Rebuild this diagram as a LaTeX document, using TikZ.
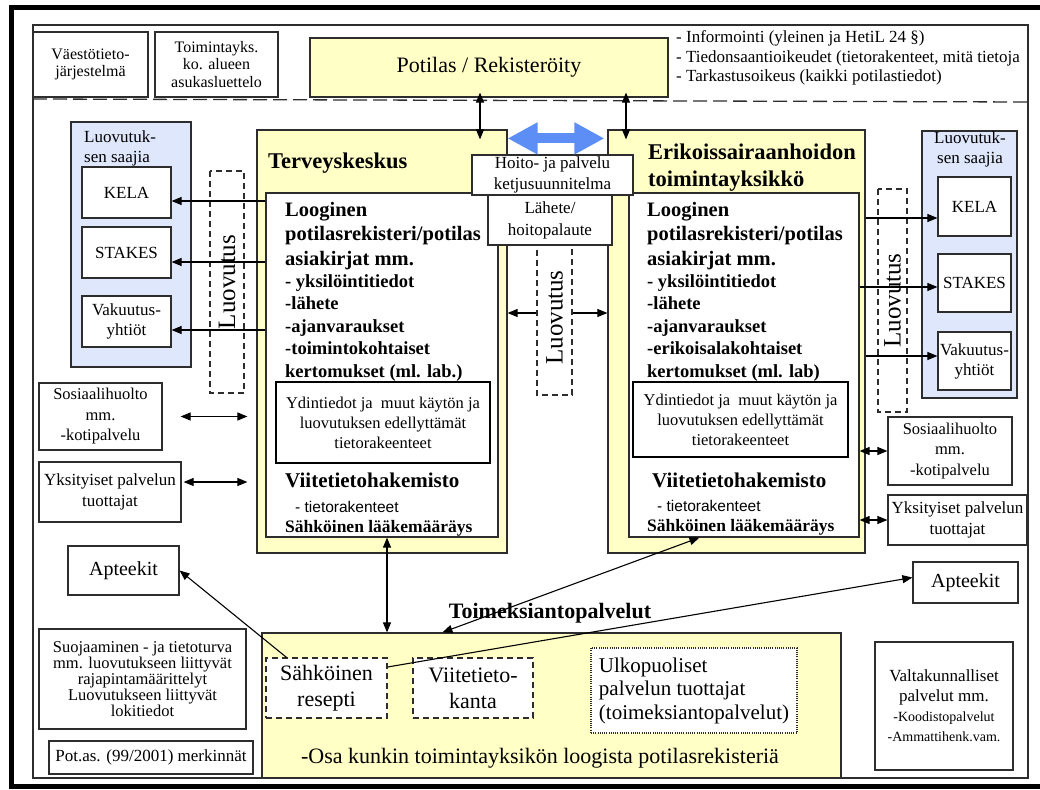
\documentclass[tikz,border=0pt]{standalone}
\usepackage{fontspec}
\setmainfont{Liberation Serif}
\setsansfont{Liberation Sans}
\usetikzlibrary{arrows.meta,calc}
\definecolor{potyellow}{RGB}{255,255,198}
\definecolor{saajablue}{RGB}{222,231,252}
\definecolor{hoitoblue}{RGB}{92,142,246}
\definecolor{linegray}{RGB}{45,45,45}
\newcommand\fsz[2]{\fontsize{#1}{#2}\selectfont}
\tikzset{
  every node/.style={font=\fsz{17}{20}},
  box/.style={draw=linegray, line width=1.2pt, fill=white, align=center, inner sep=1pt},
  ybox/.style={box, fill=potyellow},
  bbox/.style={box, fill=saajablue},
  dbox/.style={box, dash pattern=on 6pt off 4pt},
  saaja/.style={box, minimum width=89pt, minimum height=51pt},
  ydin/.style={box, draw=black, line width=2.6pt, font=\fsz{16.5}{20}},
  teksti/.style={anchor=base west, align=left, inner sep=0pt},
  otsake/.style={teksti, font=\fsz{20.5}{24.5}\bfseries},
  lista/.style={teksti, font=\fsz{18.5}{22.5}\bfseries},
  luovutus/.style={dbox, rotate=90, inner sep=0pt, font=\fsz{25}{25}},
  arr/.style={-{Triangle[length=10pt,width=8pt]}, line width=1.1pt},
  dbl/.style={{Triangle[length=10pt,width=8pt]}-{Triangle[length=10pt,width=8pt]}, line width=1.1pt},
  hoitonuoli/.style={{Triangle[length=30pt,width=30pt]}-{Triangle[length=30pt,width=30pt]}, line width=10pt, draw=hoitoblue}
}
\begin{document}
\begin{tikzpicture}[x=1pt,y=-1pt]
\useasboundingbox (0,0) rectangle (1040,789);
% kehys
\draw[line width=5pt] (1040,8) -- (11.5,8) -- (11.5,786) -- (1040,786);
\draw[draw=linegray, line width=1.2pt] (33,25) rectangle (1028,778);

% ylarivi (monirivisen tekstin base = viimeinen rivi)
\node[box, minimum width=115pt, minimum height=65pt, font=\fsz{16}{17.5}] (vaesto) at (90.5,64.5) {Väestötieto-\\järjestelmä};
\node[box, minimum width=123pt, minimum height=65pt, font=\fsz{16}{17.5}] (asukas) at (216.5,64.5) {Toimintayks.\\ko. alueen\\asukasluettelo};
\node[ybox, minimum width=358pt, minimum height=59pt, font=\fsz{22}{24}] (potilas) at (489,67.5) {Potilas / Rekisteröity};
\node[teksti, font=\fsz{17}{19.5}] (oikeudet) at (676,82) {- Informointi (yleinen ja HetiL 24 §)\\- Tiedonsaantioikeudet (tietorakenteet, mitä tietoja\\- Tarkastusoikeus (kaikki potilastiedot)};
\draw[draw=linegray, line width=1.3pt, dash pattern=on 14pt off 6pt] (33,99) -- (1028,102);

% luovutuksen saajia, vasen
\node[bbox, minimum width=120pt, minimum height=245pt] (saajaL) at (131,244.5) {};
\node[teksti] (saajaLt) at (84,162) {Luovutuk-\\sen saajia};
\node[saaja] (kelaL) at (126.5,192.5) {KELA};
\node[saaja] (stakesL) at (126.5,252.5) {STAKES};
\node[saaja] (vakL) at (126.5,321.5) {Vakuutus-\\yhtiöt};
\node[luovutus, minimum width=222pt, minimum height=34pt] (luovL) at (227,282) {Luovutus};

% terveyskeskus
\node[ybox, minimum width=250pt, minimum height=423pt] (tk) at (382,341.5) {};
\node[teksti, font=\fsz{22.5}{27}\bfseries] (tkotsikko) at (268,168) {Terveyskeskus};
\node[box, minimum width=232pt, minimum height=344pt] (tkw) at (382,365) {};
\node[otsake] (tkrek) at (285,265) {Looginen\\potilasrekisteri/potilas\\asiakirjat mm.};
\node[lista] (tklista) at (285,377) {- yksilöintitiedot\\-lähete\\-ajanvaraukset\\-toimintokohtaiset\\kertomukset (ml. lab.)};
\node[ydin, minimum width=214pt, minimum height=81pt] (ydinL) at (383,422.5) {Ydintiedot ja\ \ muut käytön ja\\luovutuksen edellyttämät\\tietorakeenteet};
\node[teksti, font=\fsz{21}{24}\bfseries] (viiteL) at (285,487) {Viitetietohakemisto};
\node[teksti, font=\sffamily\fsz{15.5}{18}] (rakenneL) at (295,512) {- tietorakenteet};
\node[teksti, font=\fsz{17.5}{20}\bfseries] (laakeL) at (285,532) {Sähköinen lääkemääräys};

% erikoissairaanhoito
\node[ybox, minimum width=257pt, minimum height=423pt] (es) at (736.5,341.5) {};
\node[teksti, font=\fsz{22.5}{27}\bfseries] (esotsikko) at (648,186) {Erikoissairaanhoidon\\toimintayksikkö};
\node[box, minimum width=230pt, minimum height=344pt] (esw) at (744,365) {};
\node[otsake] (esrek) at (647,265) {Looginen\\potilasrekisteri/potilas\\asiakirjat mm.};
\node[lista] (eslista) at (647,377) {- yksilöintitiedot\\-lähete\\-ajanvaraukset\\-erikoisalakohtaiset\\kertomukset (ml. lab)};
\node[ydin, minimum width=215pt, minimum height=75pt] (ydinR) at (740.5,419.5) {Ydintiedot ja\ \ muut käytön ja\\luovutuksen edellyttämät\\tietorakeenteet};
\node[teksti, font=\fsz{21}{24}\bfseries] (viiteR) at (652,487) {Viitetietohakemisto};
\node[teksti, font=\sffamily\fsz{15.5}{18}] (rakenneR) at (657,511) {- tietorakenteet};
\node[teksti, font=\fsz{17.5}{20}\bfseries] (laakeR) at (647,531) {Sähköinen lääkemääräys};

% keskiosa
\node[luovutus, minimum width=155pt, minimum height=35pt] (luovM) at (554.5,317.5) {Luovutus};
\node[box, minimum width=161pt, minimum height=40pt, font=\fsz{17}{21}] (hoito) at (552.5,175) {Hoito- ja palvelu\\ketjusuunnitelma};
\node[box, minimum width=124pt, minimum height=50pt, font=\fsz{17}{22}] (lahete) at (550,220) {Lähete/\\hoitopalaute};
\draw[hoitonuoli] ([yshift=-9pt]tk.north east) -- ([yshift=-9pt, xshift=-3pt]es.north west);

% luovutuksen saajia, oikea
\node[luovutus, minimum width=223pt, minimum height=29pt] (luovR) at (892.5,300.5) {Luovutus};
\node[bbox, minimum width=95pt, minimum height=267pt] (saajaR) at (969.5,264.5) {};
\node[teksti, anchor=base, align=center] (saajaRt) at (970,163) {Luovutuk-\\sen saajia};
\node[saaja, minimum width=73pt, minimum height=59pt] (kelaR) at (974.5,206.5) {KELA};
\node[saaja, minimum width=73pt, minimum height=58pt] (stakesR) at (974.5,283) {STAKES};
\node[saaja, minimum width=73pt, minimum height=58pt] (vakR) at (974.5,361) {Vakuutus-\\yhtiöt};

% muut toimijat
\node[box, minimum width=123pt, minimum height=67pt, font=\fsz{16.5}{20.5}] (sosL) at (100.5,416.5) {Sosiaalihuolto\\mm.\\-kotipalvelu};
\node[box, minimum width=142pt, minimum height=60pt, font=\fsz{17}{21}] (yksL) at (110,492) {Yksityiset palvelun\\tuottajat};
\node[box, minimum width=111pt, minimum height=49pt, font=\fsz{20}{22}] (aptL) at (123.5,570.5) {Apteekit};
\node[box, minimum width=124pt, minimum height=68pt, font=\fsz{16.5}{20.5}] (sosR) at (950,451) {Sosiaalihuolto\\mm.\\-kotipalvelu};
\node[box, minimum width=139pt, minimum height=50pt, font=\fsz{17}{21}] (yksR) at (957.5,520) {Yksityiset palvelun\\tuottajat};
\node[box, minimum width=105pt, minimum height=41pt, font=\fsz{20}{22}] (aptR) at (965.5,582.5) {Apteekit};
\node[box, minimum width=207pt, minimum height=100pt, font=\fsz{16.5}{16}] (suoja) at (142.5,679) {Suojaaminen - ja tietoturva\\mm. luovutukseen liittyvät\\rajapintamäärittelyt\\Luovutukseen liittyvät\\lokitiedot};
\node[box, minimum width=204pt, minimum height=33pt, font=\fsz{17}{20}] (potas) at (151,757.5) {Pot.as. (99/2001) merkinnät};
\node[box, minimum width=138pt, minimum height=128pt] (valta) at (944,706) {\fsz{17}{18}Valtakunnalliset\\\fsz{17}{18}palvelut mm.\\\fsz{14}{19}-Koodistopalvelut\\\fsz{14}{19}-Ammattihenk.vam.};

% toimeksiantopalvelut
\node[ybox, minimum width=579pt, minimum height=145pt] (osa) at (551.5,705.5) {};
\node[teksti, anchor=base, font=\fsz{22}{24}\bfseries] (toimeks) at (550,618) {Toimeksiantopalvelut};
\node[dbox, minimum width=121pt, minimum height=60pt, font=\fsz{22}{26}] (resepti) at (326.5,688) {Sähköinen\\resepti};
\node[dbox, minimum width=120pt, minimum height=60pt, font=\fsz{22}{26}] (viitekanta) at (473,688) {Viitetieto-\\kanta};
\node[box, align=left, dash pattern=on 1pt off 1.2pt, minimum width=206pt, minimum height=85pt, font=\fsz{21}{23.5}] (ulko) at (694,690.5) {Ulkopuoliset\\palvelun tuottajat\\(toimeksiantopalvelut)};
\node[teksti, anchor=base, font=\fsz{22}{24}] (osateksti) at (540,763) {-Osa kunkin toimintayksikön loogista potilasrekisteriä};

% nuolet
\draw[dbl, shorten <=-5pt, shorten >=-10pt] ([xshift=-9pt]potilas.south) -- ([xshift=-9pt]potilas.south |- tk.north);
\draw[dbl, shorten <=-5pt, shorten >=-10pt] ([xshift=137pt]potilas.south) -- ([xshift=137pt]potilas.south |- es.north);
\draw[arr] ([yshift=-8.5pt]kelaL.east -| tkw.west) -- ([yshift=-8.5pt]kelaL.east);
\draw[arr] ([yshift=-9.5pt]stakesL.east -| tkw.west) -- ([yshift=-9.5pt]stakesL.east);
\draw[arr] ([yshift=-8.5pt]vakL.east -| tkw.west) -- ([yshift=-8.5pt]vakL.east);
\draw[arr] ([yshift=-11.5pt]kelaR.west -| es.east) -- ([yshift=-11.5pt]kelaR.west);
\draw[arr] ([yshift=-4pt]stakesR.west -| esw.east) -- ([yshift=-4pt]stakesR.west);
\draw[arr] ([yshift=5pt]vakR.west -| es.east) -- ([yshift=5pt]vakR.west);
\draw[arr] ([yshift=4.5pt]luovM.north) -- ([yshift=4.5pt]luovM.north -| tk.east);
\draw[arr] ([yshift=4.5pt]luovM.south) -- ([yshift=4.5pt]luovM.south -| es.west);
\draw[dbl, shorten <=18pt, shorten >=9pt] (sosL.east) -- (sosL.east -| tk.west);
\draw[dbl, shorten <=2pt, shorten >=9pt] ([yshift=10pt]yksL.east) -- ([yshift=10pt]yksL.east -| tk.west);
\draw[dbl] (sosR.west -| esw.east) -- (sosR.west);
\draw[dbl] (yksR.west -| esw.east) -- (yksR.west);
\draw[dbl] ([xshift=5pt]tkw.south) -- ([xshift=5pt]tkw.south |- osa.north);
\draw[dbl] ([xshift=181pt]osa.north west) -- ([xshift=71pt]esw.south west);
\draw[arr] ([xshift=-40pt]resepti.north) -- (aptL.east);
\draw[arr] ([yshift=21pt]resepti.east) -- ([yshift=5pt]aptR.west);
\end{tikzpicture}
\end{document}
